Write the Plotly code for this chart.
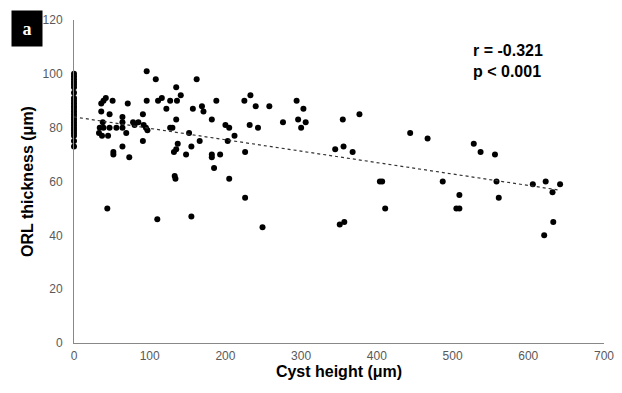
import plotly.graph_objects as go

# ---- data ----
zero_y = [100, 99, 98, 97, 96, 95, 93, 91, 90, 89, 88, 87, 86, 85, 84, 83, 82, 81, 80, 79, 78, 77, 75, 73]

pts_x = [96, 108, 162, 135, 141, 42, 39, 36, 51, 71, 96, 111, 116, 127, 136, 157, 169, 171, 188, 122,
         36, 47, 91, 64, 135, 182, 38, 64, 78, 85, 80, 92, 95, 97, 34, 39, 47, 56, 64, 127,
         130, 33, 37, 45, 69, 152, 200, 205, 212, 91, 166, 203, 137, 64, 155, 135, 132, 52, 52, 73,
         148, 182, 182, 193, 185, 133, 134, 205, 44, 110, 155,
         233, 225, 240, 258, 294, 303, 232, 243, 276, 296, 306, 300, 355, 377, 444, 226, 345, 356, 368,
         226, 404, 407, 249, 351, 357, 411,
         467, 528, 537, 556, 487, 558, 606, 623, 642, 632, 509, 561, 505, 509, 633, 621]
pts_y = [101, 98, 98, 95, 92, 91, 90, 89, 90, 89, 90, 90, 91, 90, 90, 87, 88, 86, 90, 87,
         86, 85, 85, 84, 83, 83, 82, 82, 82, 82, 81, 81, 80, 79, 80, 80, 80, 80, 80, 80,
         80, 78, 77, 77, 78, 78, 81, 80, 77, 75, 75, 75, 74, 73, 73, 72, 71, 71, 70, 69,
         70, 70, 69, 70, 65, 62, 61, 61, 50, 46, 47,
         92, 90, 88, 88, 90, 87, 81, 80, 82, 83, 82, 80, 83, 85, 78, 71, 72, 73, 71,
         54, 60, 60, 43, 44, 45, 50,
         76, 74, 71, 70, 60, 60, 59, 60, 59, 56, 55, 54, 50, 50, 45, 40]

trend_x = [0, 641]
trend_y = [84.0, 56.8]

x_ticks = [0, 100, 200, 300, 400, 500, 600, 700]
y_ticks = [0, 20, 40, 60, 80, 100, 120]

all_x = [0] * len(zero_y) + pts_x
all_y = zero_y + pts_y

FONT = "Arial, Liberation Sans, sans-serif"

fig = go.Figure()
fig.add_trace(go.Scatter(x=all_x, y=all_y, mode="markers",
                         marker=dict(color="black", size=6, line=dict(width=0)),
                         showlegend=False, cliponaxis=False))
fig.add_trace(go.Scatter(x=trend_x, y=trend_y, mode="lines",
                         line=dict(color="#333333", width=1.2, dash="dot"),
                         showlegend=False))

axis_common = dict(showgrid=False, zeroline=False, showline=True, linecolor="#888888",
                   linewidth=1, ticks="", automargin=False,
                   tickfont=dict(family=FONT, size=12, color="#595959"))

fig.update_xaxes(range=[0, 700], tickvals=x_ticks, ticklabelstandoff=2,
                 title=dict(text="<b>Cyst height (μm)</b>", font=dict(family=FONT, size=16, color="black"),
                            standoff=2),
                 **axis_common)
fig.update_yaxes(range=[0, 120], tickvals=y_ticks, ticklabelstandoff=8,
                 title=dict(text="<b>ORL thickness (μm)</b>", font=dict(family=FONT, size=16, color="black"),
                            standoff=4),
                 **axis_common)

fig.add_annotation(xref="paper", yref="paper", x=(471 - 74) / 530, y=(343 - 40) / 323,
                   xanchor="left", yanchor="top", align="left", showarrow=False,
                   text="<b>r = -0.321<br>p < 0.001</b>",
                   font=dict(family=FONT, size=16, color="black"))

fig.add_annotation(xref="paper", yref="paper", x=(10.5 - 74) / 530, y=(343 - 10) / 323,
                   xanchor="left", yanchor="top", showarrow=False,
                   text="<b>a</b>", bgcolor="black", width=30, height=35, borderpad=0,
                   font=dict(family="Liberation Serif, DejaVu Serif, serif", size=18, color="white"))

# page body adds an 8px margin, so the figure is sized to fit the 622x393 window
fig.update_layout(width=614, height=385, autosize=False,
                  margin=dict(l=66, r=18, t=12, b=50),
                  paper_bgcolor="white", plot_bgcolor="white")

fig.write_html("out.html")
